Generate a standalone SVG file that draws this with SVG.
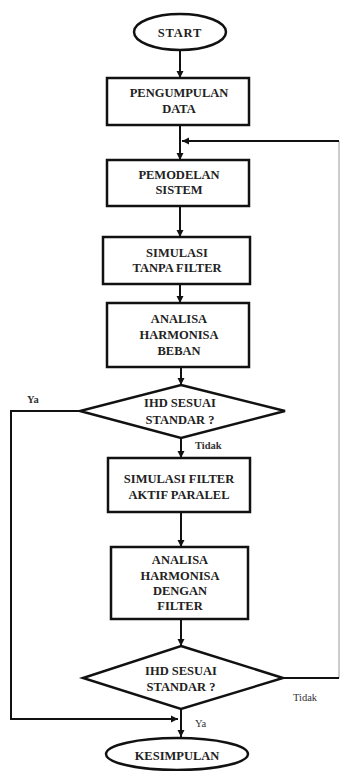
<svg xmlns="http://www.w3.org/2000/svg" width="342" height="771" viewBox="0 0 342 771">
<defs>
<marker id="ah" markerWidth="8" markerHeight="8" refX="7" refY="4" orient="auto" markerUnits="userSpaceOnUse">
<path d="M0,0.5 L7,4 L0,7.5 Z" fill="#111"/>
</marker>
<style>
.shape{fill:#fff;stroke:#111;stroke-width:2.5}
.t{font-family:"Liberation Serif","Times New Roman",serif;font-weight:bold;font-size:12.5px;fill:#222;text-anchor:middle}
.lbl{font-family:"Liberation Serif","Times New Roman",serif;font-size:10.5px;fill:#333}
.c{fill:none;stroke:#111;stroke-width:2}
</style>
</defs>
<rect width="342" height="771" fill="#fff"/>
<g id="connectors">
<line class="c" x1="180" y1="51" x2="180" y2="78" marker-end="url(#ah)"/>
<line class="c" x1="180" y1="125" x2="180" y2="160" marker-end="url(#ah)"/>
<polyline fill="none" stroke="#aaa" stroke-width="1.2" points="339,678 339,141"/>
<line class="c" x1="339" y1="141" x2="182" y2="141" marker-end="url(#ah)"/>
<line class="c" x1="180" y1="206" x2="180" y2="237" marker-end="url(#ah)"/>
<line class="c" x1="180" y1="284" x2="180" y2="303" marker-end="url(#ah)"/>
<line class="c" x1="181" y1="367" x2="181" y2="385" marker-end="url(#ah)"/>
<line class="c" x1="181" y1="438" x2="181" y2="458" marker-end="url(#ah)"/>
<line class="c" x1="181" y1="512" x2="181" y2="547" marker-end="url(#ah)"/>
<line class="c" x1="181" y1="619" x2="181" y2="646" marker-end="url(#ah)"/>
<polyline class="c" points="80,411 11,411 11,719 178,719" marker-end="url(#ah)"/>
<line class="c" x1="283" y1="678" x2="339" y2="678"/>
<line class="c" x1="181" y1="709" x2="181" y2="737" marker-end="url(#ah)"/>
<text class="lbl" x="27" y="403" font-weight="bold">Ya</text>
<text class="lbl" x="195" y="449" font-weight="bold">Tidak</text>
<text class="lbl" x="293" y="701">Tidak</text>
<text class="lbl" x="195" y="727">Ya</text>
</g>
<g id="start">
<ellipse class="shape" cx="180" cy="32" rx="46" ry="18"/>
<text class="t" x="180" y="37" font-size="13.5" letter-spacing="0.8">START</text>
</g>
<g id="pengumpulan">
<rect class="shape" x="107" y="78" width="142" height="47"/>
<text class="t" x="179" y="97">PENGUMPULAN</text>
<text class="t" x="179" y="113">DATA</text>
</g>
<g id="pemodelan">
<rect class="shape" x="107" y="160" width="142" height="46"/>
<text class="t" x="179" y="179">PEMODELAN</text>
<text class="t" x="179" y="194">SISTEM</text>
</g>
<g id="simulasi-tanpa">
<rect class="shape" x="103" y="237" width="147" height="47"/>
<text class="t" x="177" y="257">SIMULASI</text>
<text class="t" x="177" y="272">TANPA FILTER</text>
</g>
<g id="analisa-beban">
<rect class="shape" x="107" y="303" width="142" height="64"/>
<text class="t" x="179" y="323">ANALISA</text>
<text class="t" x="179" y="339">HARMONISA</text>
<text class="t" x="179" y="355">BEBAN</text>
</g>
<g id="ihd1">
<polygon class="shape" points="181,385 285,411 181,438 80,411"/>
<text class="t" x="180" y="407">IHD SESUAI</text>
<text class="t" x="180" y="424">STANDAR ?</text>
</g>
<g id="simulasi-filter">
<rect class="shape" x="108" y="458" width="142" height="54"/>
<text class="t" x="179" y="483">SIMULASI FILTER</text>
<text class="t" x="179" y="499">AKTIF PARALEL</text>
</g>
<g id="analisa-filter">
<rect class="shape" x="111" y="547" width="137" height="72"/>
<text class="t" x="180" y="564">ANALISA</text>
<text class="t" x="180" y="580">HARMONISA</text>
<text class="t" x="180" y="595">DENGAN</text>
<text class="t" x="180" y="610">FILTER</text>
</g>
<g id="ihd2">
<polygon class="shape" points="181,646 283,678 181,709 83,678"/>
<text class="t" x="181" y="675">IHD SESUAI</text>
<text class="t" x="181" y="691">STANDAR ?</text>
</g>
<g id="kesimpulan">
<ellipse class="shape" cx="177" cy="754" rx="71" ry="16"/>
<text class="t" x="177" y="760" font-size="13.5">KESIMPULAN</text>
</g>
</svg>
